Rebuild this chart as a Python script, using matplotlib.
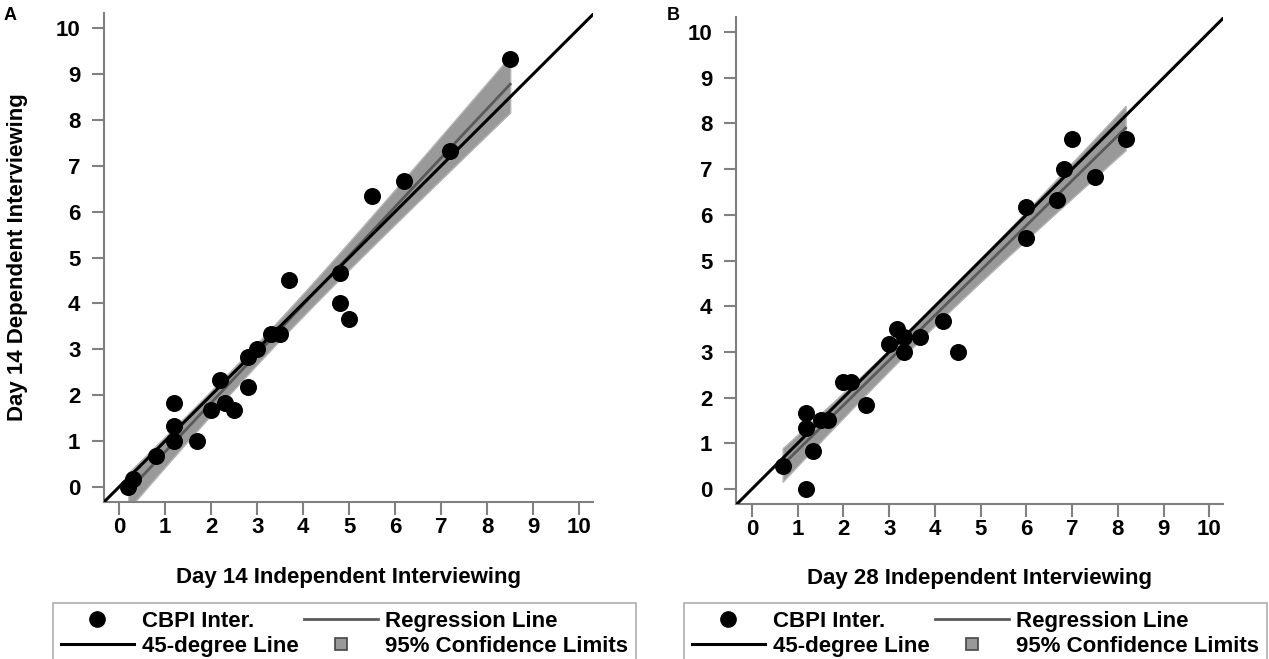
import numpy as np
import matplotlib
matplotlib.use('Agg')
import matplotlib.pyplot as plt
from matplotlib.lines import Line2D

plt.rcParams['font.family'] = ['Liberation Sans', 'DejaVu Sans']
plt.rcParams['font.weight'] = 'bold'

# ---------------- data ----------------
a_x = [8.5, 7.2, 6.2, 5.5, 3.7, 4.8, 4.8, 5.0, 3.3, 3.5, 3.0, 2.8,
       2.2, 2.8, 1.2, 2.0, 2.3, 2.5, 1.2, 1.2, 1.7, 0.8, 0.3, 0.2]
a_y = [9.33, 7.33, 6.67, 6.33, 4.5, 4.67, 4.0, 3.67, 3.33, 3.33, 3.0, 2.83,
       2.33, 2.17, 1.83, 1.67, 1.83, 1.67, 1.33, 1.0, 1.0, 0.67, 0.17, 0.0]
b_x = [8.17, 7.0, 6.83, 7.5, 6.67, 6.0, 6.0, 4.17, 4.5, 3.67, 3.17, 3.33,
       3.0, 3.33, 2.0, 2.17, 2.5, 1.17, 1.5, 1.67, 1.17, 1.33, 0.67, 1.17]
b_y = [7.67, 7.67, 7.0, 6.83, 6.33, 6.17, 5.5, 3.67, 3.0, 3.33, 3.5, 3.33,
       3.17, 3.0, 2.33, 2.33, 1.83, 1.67, 1.5, 1.5, 1.33, 0.83, 0.5, 0.0]

ticks = list(range(0, 11))
x_labels = ['Day 14 Independent Interviewing', 'Day 28 Independent Interviewing']
y_label_a = 'Day 14 Dependent Interviewing'
panel_letters = ['A', 'B']
legend_labels = ['CBPI Inter.', '45-degree Line', 'Regression Line', '95% Confidence Limits']

T_CRIT = 2.074  # t(0.975, df=22)


def fit_band(x, y, t=T_CRIT):
    x = np.asarray(x, float)
    y = np.asarray(y, float)
    n = len(x)
    b1, b0 = np.polyfit(x, y, 1)
    xs = np.linspace(x.min(), x.max(), 200)
    yhat = b0 + b1 * xs
    resid = y - (b0 + b1 * x)
    s = np.sqrt(np.sum(resid ** 2) / (n - 2))
    se = s * np.sqrt(1 / n + (xs - x.mean()) ** 2 / np.sum((x - x.mean()) ** 2))
    return xs, yhat, yhat - t * se, yhat + t * se


W, H = 1269, 659
fig = plt.figure(figsize=(W / 100, H / 100), dpi=100)


def px_axes(l, r, t, b):
    return fig.add_axes([l / W, 1 - b / H, (r - l) / W, (b - t) / H])


axA = px_axes(104, 593, 13, 502)
axB = px_axes(736, 1223, 17, 504)

SPINE = '#808080'
BAND = '#999999'
REG = '#5a5a5a'
FS = 16

for ax, xs, ys, xl, (x0, y0) in [(axA, a_x, a_y, x_labels[0], (-0.33, -0.33)),
                                  (axB, b_x, b_y, x_labels[1], (-0.35, -0.33))]:
    gx, gy, lo, hi = fit_band(xs, ys)
    ax.fill_between(gx, lo, hi, color=BAND, edgecolor='#b5b5b5', lw=1.0, zorder=1)
    ax.plot(gx, gy, color=REG, lw=2.0, zorder=2)
    ax.axline((0, 0), slope=1, color='black', lw=2.2, zorder=3)
    ax.scatter(xs, ys, s=150, color='black', zorder=4, linewidths=0)
    ax.set_xlim(x0, 10.3)
    ax.set_ylim(y0, 10.33)
    ax.set_xticks(ticks)
    ax.set_yticks(ticks)
    for sp in ['top', 'right']:
        ax.spines[sp].set_visible(False)
    for sp in ['left', 'bottom']:
        ax.spines[sp].set_color(SPINE)
        ax.spines[sp].set_linewidth(1.5)
    ax.tick_params(axis='both', colors=SPINE, length=9, width=1.5, labelsize=FS,
                   labelcolor='black')
    ax.tick_params(axis='x', pad=1.5)
    ax.tick_params(axis='y', pad=8)
    for lab in ax.get_xticklabels() + ax.get_yticklabels():
        lab.set_fontweight('bold')
    ax.set_xlabel(xl, fontsize=FS, fontweight='bold', va='center')
    ax.xaxis.set_label_coords(0.5, -75 / 489)

axA.set_ylabel(y_label_a, fontsize=FS, fontweight='bold', va='center')
axA.yaxis.set_label_coords(-86 / 489, 0.5)

fig.text(10 / W, 1 - 16 / H, panel_letters[0], fontsize=13, fontweight='bold', ha='center', va='center')
fig.text(673 / W, 1 - 16 / H, panel_letters[1], fontsize=13, fontweight='bold', ha='center', va='center')


def make_handles():
    return [Line2D([], [], marker='o', ls='none', color='black', markersize=11),
            Line2D([], [], color='black', lw=2.2),
            Line2D([], [], color=REG, lw=2.0),
            Line2D([], [], marker='s', ls='none', markerfacecolor=BAND,
                   markeredgecolor='#444444', markeredgewidth=1.2, markersize=8)]


for left in [53, 684]:
    leg = fig.legend(make_handles(), legend_labels, ncol=2, loc='upper left',
                     bbox_to_anchor=(left / W, 1 - 603 / H), borderaxespad=0,
                     frameon=True, fancybox=False, edgecolor='#999999',
                     handlelength=3.3, handletextpad=0.35, columnspacing=0.25,
                     labelspacing=0.2, borderpad=0.35, prop={'weight': 'bold', 'size': FS})
    leg.get_frame().set_linewidth(1.2)
    leg.get_frame().set_facecolor('white')

fig.savefig('out.png', dpi=100, facecolor='white')
